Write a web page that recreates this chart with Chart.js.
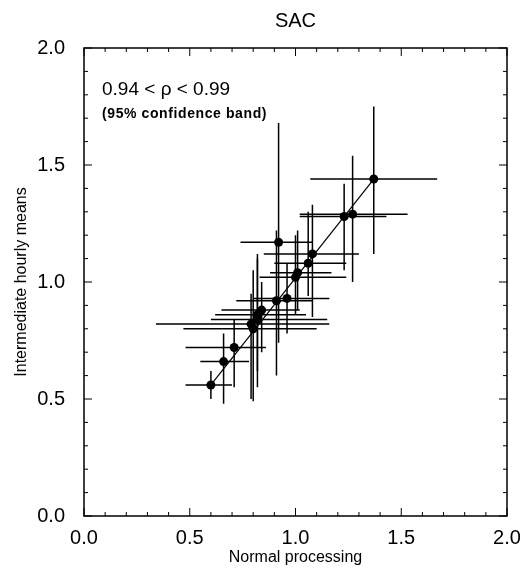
<!DOCTYPE html>
<html>
<head>
<meta charset="utf-8">
<script src="https://cdn.jsdelivr.net/npm/chart.js@4.4.1/dist/chart.umd.min.js"></script>
<style>
  html, body { margin: 0; padding: 0; background: #fff; }
  canvas { display: block; }
</style>
</head>
<body>
<canvas id="sacChart" width="523" height="571"></canvas>
<script>
// station values (normal processing vs intermediate hourly means)
var xVals  = [0.60, 0.66, 0.71, 0.79, 0.80, 0.82, 0.82, 0.84, 0.91, 0.92, 0.96, 1.00, 1.01, 1.06, 1.08, 1.23, 1.27, 1.37];
var yVals  = [0.56, 0.66, 0.72, 0.82, 0.80, 0.84, 0.86, 0.88, 0.92, 1.17, 0.93, 1.02, 1.04, 1.08, 1.12, 1.28, 1.29, 1.44];
// 95% confidence limits
var xLow   = [0.48, 0.55, 0.48, 0.34, 0.47, 0.60, 0.62, 0.65, 0.72, 0.74, 0.80, 0.83, 0.88, 0.90, 0.85, 1.02, 1.02, 1.07];
var xHigh  = [0.70, 0.78, 0.86, 1.16, 1.10, 1.15, 1.05, 1.02, 1.08, 1.08, 1.16, 1.24, 1.17, 1.24, 1.30, 1.43, 1.53, 1.67];
var yLow   = [0.50, 0.48, 0.55, 0.50, 0.49, 0.55, 0.62, 0.70, 0.60, 0.74, 0.78, 0.86, 0.88, 0.94, 0.85, 1.05, 1.00, 1.12];
var yHigh  = [0.62, 0.78, 0.84, 0.95, 1.05, 1.10, 1.12, 1.00, 1.22, 1.68, 1.08, 1.20, 1.22, 1.30, 1.33, 1.42, 1.54, 1.75];
// fitted line through the cloud
var fitX = [0.60, 1.37];
var fitY = [0.56, 1.44];
var tickVals = [0.0, 0.5, 1.0, 1.5, 2.0];

var FONT = '"Liberation Sans", Arial, sans-serif';
var points = xVals.map(function (x, i) { return { x: x, y: yVals[i] }; });
var fitPts = fitX.map(function (x, i) { return { x: x, y: fitY[i] }; });

var errorBars = {
    id: 'errorBars',
    beforeDatasetsDraw: function (chart) {
        var ctx = chart.ctx, xs = chart.scales.x, ys = chart.scales.y;
        ctx.save();
        ctx.strokeStyle = '#000';
        ctx.lineWidth = 1.5;
        for (var i = 0; i < xVals.length; i++) {
            var px = xs.getPixelForValue(xVals[i]), py = ys.getPixelForValue(yVals[i]);
            ctx.beginPath();
            ctx.moveTo(xs.getPixelForValue(xLow[i]), py);
            ctx.lineTo(xs.getPixelForValue(xHigh[i]), py);
            ctx.moveTo(px, ys.getPixelForValue(yLow[i]));
            ctx.lineTo(px, ys.getPixelForValue(yHigh[i]));
            ctx.stroke();
        }
        ctx.restore();
    }
};

var frameTicks = {
    id: 'frameTicks',
    afterDraw: function (chart) {
        var ctx = chart.ctx, a = chart.chartArea, xs = chart.scales.x, ys = chart.scales.y;
        ctx.save();
        ctx.strokeStyle = '#000';
        ctx.lineWidth = 1.5;
        ctx.strokeRect(a.left, a.top, a.right - a.left, a.bottom - a.top);
        ctx.lineWidth = 1;
        for (var k = 0; k <= 20; k++) {
            var v = k / 10, len = (k % 5 === 0) ? 8 : 4;
            var px = xs.getPixelForValue(v), py = ys.getPixelForValue(v);
            ctx.beginPath();
            ctx.moveTo(px, a.bottom); ctx.lineTo(px, a.bottom - len);
            ctx.moveTo(px, a.top); ctx.lineTo(px, a.top + len);
            ctx.moveTo(a.left, py); ctx.lineTo(a.left + len, py);
            ctx.moveTo(a.right, py); ctx.lineTo(a.right - len, py);
            ctx.stroke();
        }
        ctx.fillStyle = '#000';
        // title, centred over the plot box
        ctx.textAlign = 'center';
        ctx.textBaseline = 'alphabetic';
        ctx.font = '20px ' + FONT;
        ctx.fillText('SAC', (a.left + a.right) / 2, 27);
        // annotation
        ctx.textAlign = 'left';
        ctx.font = '19px ' + FONT;
        ctx.fillText('0.94 < \u03c1 < 0.99', a.left + 18, a.top + 47);
        ctx.font = 'bold 14px ' + FONT;
        if ('letterSpacing' in ctx) ctx.letterSpacing = '0.6px';
        ctx.fillText('(95% confidence band)', a.left + 18, a.top + 70);
        ctx.restore();
    }
};

new Chart(document.getElementById('sacChart'), {
    type: 'scatter',
    data: {
        datasets: [{
            data: points,
            showLine: false,
            backgroundColor: '#000',
            borderColor: '#000',
            pointRadius: 4.5,
            pointBorderWidth: 0
        }, {
            data: fitPts,
            showLine: true,
            borderColor: '#000',
            borderWidth: 1.2,
            pointRadius: 0
        }]
    },
    options: {
        responsive: false,
        animation: false,
        layout: { padding: { left: 0, right: 16, top: 48, bottom: 0 } },
        plugins: {
            legend: { display: false },
            tooltip: { enabled: false },
            title: { display: false }
        },
        scales: {
            x: {
                type: 'linear', min: 0, max: 2,
                afterBuildTicks: function (s) { s.ticks = tickVals.map(function (v) { return { value: v }; }); },
                afterFit: function (s) { s.height = 55; },
                grid: { display: false },
                border: { display: false },
                ticks: {
                    color: '#000', padding: 2,
                    font: { family: FONT, size: 20 },
                    callback: function (v) { return Number(v).toFixed(1); }
                },
                title: {
                    display: true, text: 'Normal processing', color: '#000', padding: { top: 0, bottom: 4 },
                    font: { family: FONT, size: 16 }
                }
            },
            y: {
                type: 'linear', min: 0, max: 2,
                afterBuildTicks: function (s) { s.ticks = tickVals.map(function (v) { return { value: v }; }); },
                afterFit: function (s) { s.width = 84; },
                grid: { display: false },
                border: { display: false },
                ticks: {
                    color: '#000', padding: 11,
                    font: { family: FONT, size: 20 },
                    callback: function (v) { return Number(v).toFixed(1); }
                },
                title: {
                    display: true, text: 'Intermediate hourly means', color: '#000', padding: { top: 12, bottom: 0 },
                    font: { family: FONT, size: 16 }
                }
            }
        }
    },
    plugins: [errorBars, frameTicks]
});
</script>
</body>
</html>
